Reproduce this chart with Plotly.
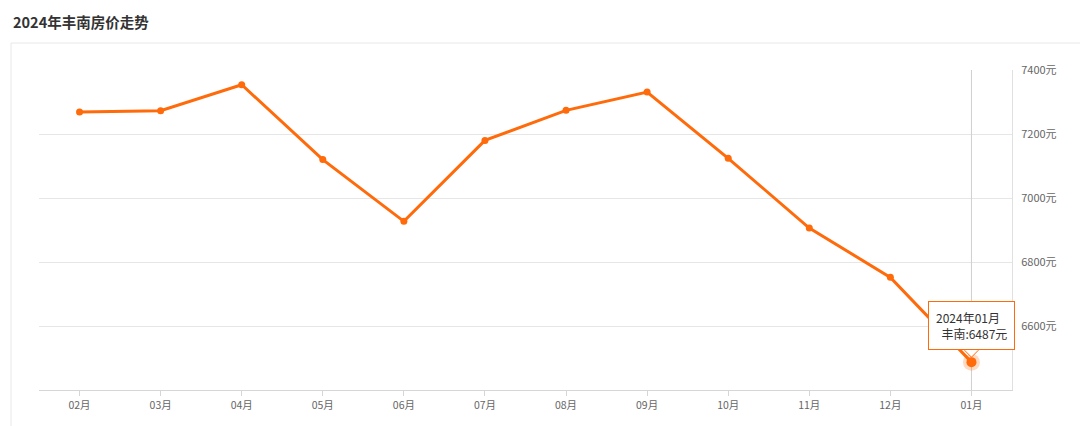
import plotly.graph_objects as go

# ---- data ----
months = ["02月", "03月", "04月", "05月", "06月", "07月", "08月", "09月", "10月", "11月", "12月", "01月"]
prices = [7269, 7273, 7354, 7120, 6927, 7180, 7274, 7331, 7124, 6906, 6752, 6487]
y_ticks = [6600, 6800, 7000, 7200, 7400]
y_tick_labels = ["6600元", "6800元", "7000元", "7200元", "7400元"]
y_range = [6400, 7400]
title_text = "2024年丰南房价走势"
series_name = "丰南"
tip_month = "2024年01月"

W, H = 1080, 426
ML, MR, MT, MB = 39, 68, 70, 36
PW = W - ML - MR
PH = H - MT - MB

def px_x(p):
    return (p - ML) / PW

def px_y(p):
    return (H - MB - p) / PH

ORANGE = "#ff6a0a"
FONT = "Noto Sans CJK SC"

fig = go.Figure()

# crosshair at hovered (last) category
fig.add_trace(go.Scatter(
    x=[months[-1], months[-1]], y=y_range, mode="lines",
    line=dict(color="#cfcfcf", width=1), hoverinfo="skip", showlegend=False,
    cliponaxis=False,
))

fig.add_trace(go.Scatter(
    x=months, y=prices, mode="lines+markers", name=series_name,
    line=dict(color=ORANGE, width=3),
    marker=dict(color=ORANGE, size=7),
    showlegend=False,
))

# highlighted point halo
fig.add_trace(go.Scatter(
    x=[months[-1]], y=[prices[-1]], mode="markers",
    marker=dict(color="rgba(255,106,10,0.25)", size=17),
    hoverinfo="skip", showlegend=False,
))
fig.add_trace(go.Scatter(
    x=[months[-1]], y=[prices[-1]], mode="markers",
    marker=dict(color=ORANGE, size=10),
    hoverinfo="skip", showlegend=False,
))

# tooltip box
fig.add_annotation(
    x=months[-1], y=prices[-1], xref="x", yref="y",
    text=f"{tip_month}<br>\u00a0\u00a0{series_name}:{prices[-1]}元",
    showarrow=False, xanchor="center", yanchor="bottom", yshift=12,
    align="left", bgcolor="white", bordercolor=ORANGE, borderwidth=1,
    borderpad=7, font=dict(family=FONT, size=12, color="#333"),
)
# tooltip notch (pixel-sized path anchored at the hovered point)
fig.add_shape(
    type="path", xref="x", yref="y",
    xsizemode="pixel", ysizemode="pixel",
    xanchor=len(months) - 1, yanchor=prices[-1],
    path="M -7,12 L 0,5 L 7,12",
    line=dict(color=ORANGE, width=1), fillcolor="white", layer="above",
)

# title
fig.add_annotation(
    x=px_x(11), y=px_y(21), xref="paper", yref="paper",
    text=f"<b>{title_text}</b>", showarrow=False, xanchor="left", yanchor="middle",
    font=dict(family=FONT, size=14.5, color="#333"),
)

# card border
fig.add_shape(type="line", xref="paper", yref="paper",
              x0=px_x(11), x1=px_x(11), y0=px_y(43), y1=px_y(H + 5),
              line=dict(color="#e8e8e8", width=1))
fig.add_shape(type="line", xref="paper", yref="paper",
              x0=px_x(11), x1=px_x(W + 5), y0=px_y(43), y1=px_y(43),
              line=dict(color="#e8e8e8", width=1))

fig.update_layout(
    width=W, height=H,
    margin=dict(l=ML, r=MR, t=MT, b=MB),
    paper_bgcolor="white", plot_bgcolor="white",
    font=dict(family=FONT, size=10, color="#666"),
    xaxis=dict(
        type="category", categoryorder="array", categoryarray=months,
        range=[-0.5, len(months) - 0.5],
        showgrid=False, showline=True, linecolor="#d6d6d6", linewidth=1,
        ticks="outside", ticklen=5, tickcolor="#d6d6d6",
        tickfont=dict(family=FONT, size=10.5, color="#666"),
        zeroline=False, fixedrange=True,
    ),
    yaxis=dict(
        side="right", range=y_range, tickvals=y_ticks, ticktext=y_tick_labels,
        showgrid=True, gridcolor="#e6e6e6", gridwidth=1,
        showline=True, linecolor="#e0e0e0", linewidth=1, mirror=False,
        ticks="", ticklabelstandoff=6,
        tickfont=dict(family=FONT, size=11, color="#666"),
        zeroline=False, fixedrange=True,
    ),
    hovermode=False,
)

fig.write_html(
    "out.html",
    config={"displayModeBar": False},
    post_script="document.body.style.margin='0';document.body.style.padding='0';",
)
